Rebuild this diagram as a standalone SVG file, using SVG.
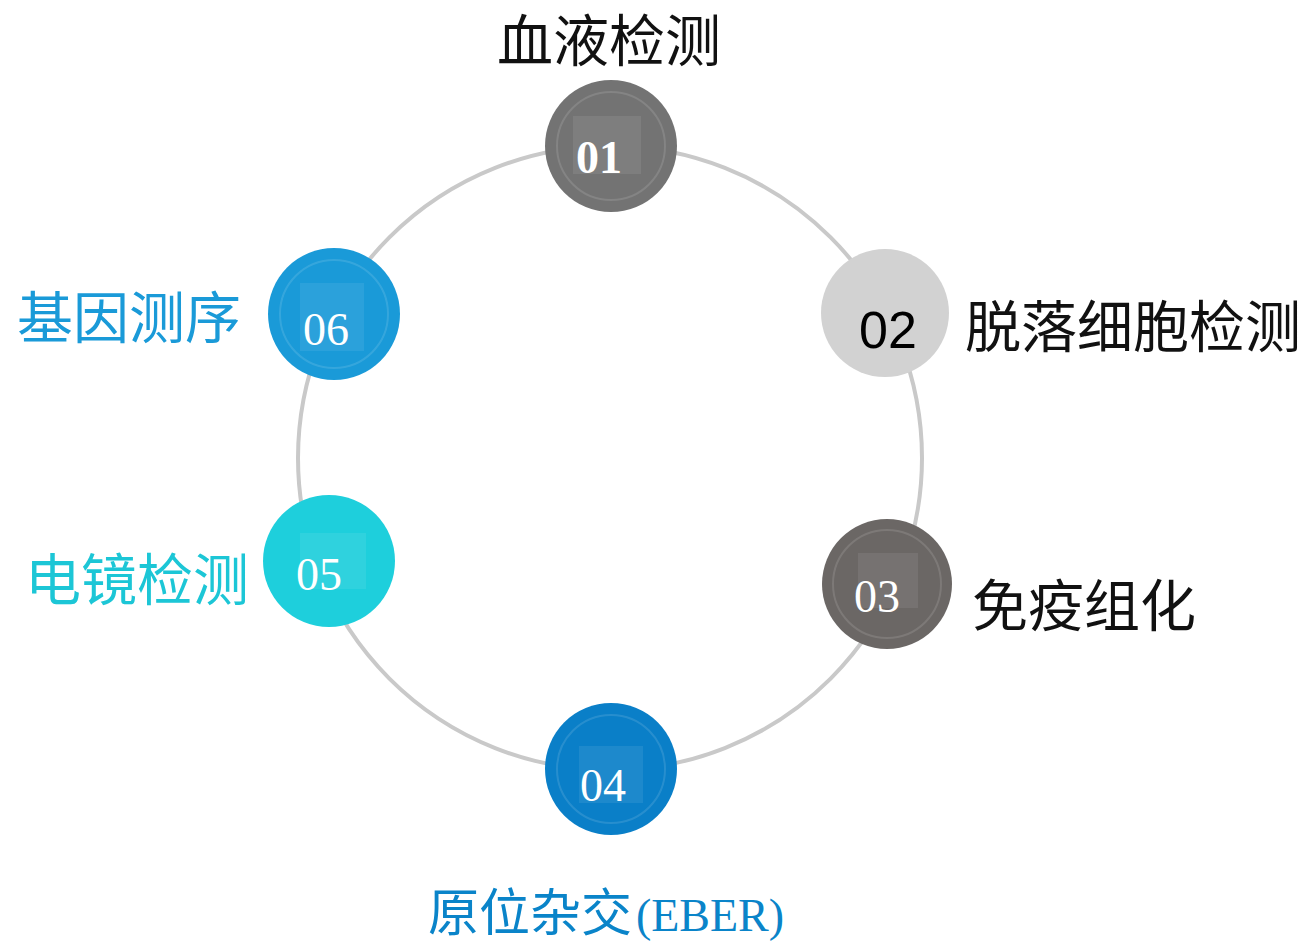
<svg xmlns="http://www.w3.org/2000/svg" width="1312" height="942" viewBox="0 0 1312 942">
<style>
.cn{font-family:"Noto Sans CJK SC","Liberation Sans",sans-serif;font-size:56px;text-anchor:middle}
.num{font-family:"Liberation Serif",serif;font-size:46px;fill:#fff;text-anchor:middle}
.ring{fill:none;stroke:#fff;stroke-opacity:0.12;stroke-width:2}
.sq{fill:#fff;fill-opacity:0.08}
</style>
<rect width="1312" height="942" fill="#fff"/>
<g id="connectors">
<circle cx="610" cy="458" r="312" fill="none" stroke="#c9c9c9" stroke-width="4"/>
</g>
<g id="n01">
<circle cx="611" cy="146" r="66" fill="#737373"/>
<circle class="ring" cx="611" cy="146" r="54"/>
<rect class="sq" x="573" y="116" width="68" height="58"/>
<text class="num" x="599" y="173" font-weight="bold">01</text>
<text class="cn" x="609" y="61" fill="#111">血液检测</text>
</g>
<g id="n02">
<circle cx="885" cy="313" r="64" fill="#d2d2d2"/>
<text x="888" y="348" font-family="Liberation Sans,sans-serif" font-size="52" fill="#000" text-anchor="middle">02</text>
<text class="cn" x="1133" y="347" fill="#111" font-size="58">脱落细胞检测</text>
</g>
<g id="n03">
<circle cx="887" cy="584" r="65" fill="#6b6765"/>
<circle class="ring" cx="887" cy="584" r="54"/>
<rect class="sq" x="858" y="553" width="60" height="55"/>
<text class="num" x="877" y="612">03</text>
<text class="cn" x="1084" y="626" fill="#111" font-size="58">免疫组化</text>
</g>
<g id="n04">
<circle cx="611" cy="769" r="66" fill="#0a7fc8"/>
<circle class="ring" cx="611" cy="769" r="54"/>
<rect class="sq" x="579" y="746" width="64" height="57"/>
<text class="num" x="603" y="801">04</text>
<text x="606" y="931" font-family="Noto Sans CJK SC,sans-serif" font-size="51" fill="#0a84c9" text-anchor="middle">原位杂交<tspan font-family="Liberation Serif,serif" font-size="46" dx="4">(EBER)</tspan></text>
</g>
<g id="n05">
<circle cx="329" cy="561" r="66" fill="#1ecfdc"/>
<rect class="sq" x="300" y="533" width="66" height="56"/>
<text class="num" x="319" y="590">05</text>
<text class="cn" x="137" y="600" fill="#1cc6d6" font-size="53">电镜检测</text>
</g>
<g id="n06">
<circle cx="334" cy="314" r="66" fill="#1a9ad8"/>
<circle class="ring" cx="334" cy="314" r="54"/>
<rect class="sq" x="300" y="283" width="64" height="68"/>
<text class="num" x="326" y="345">06</text>
<text class="cn" x="129" y="338" fill="#1a9ad8" font-size="58">基因测序</text>
</g>
</svg>
